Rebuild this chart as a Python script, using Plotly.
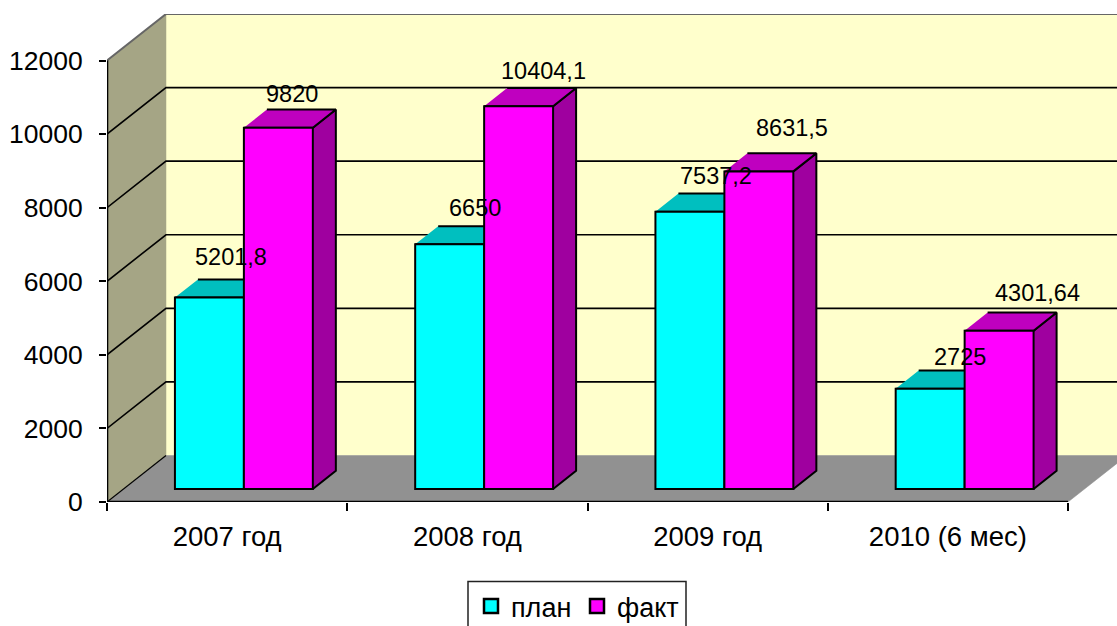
import plotly.graph_objects as go

categories = ["2007 год", "2008 год", "2009 год", "2010 (6 мес)"]
plan = [5201.8, 6650, 7537.2, 2725]
fact = [9820, 10404.1, 8631.5, 4301.64]
plan_labels = ["5201,8", "6650", "7537,2", "2725"]
fact_labels = ["9820", "10404,1", "8631,5", "4301,64"]
y_ticks = [0, 2000, 4000, 6000, 8000, 10000, 12000]

# Oblique projection of the depth axis, in axis units per unit of depth
W, H = 1117, 626
L, R, T, B = 107, 1068, 60.5, 502
DEPTH_X, DEPTH_Y = 59, 46.5
N = len(categories)
DX = DEPTH_X / (R - L) * N
DY = DEPTH_Y / (B - T) * 12000
D_FRONT, D_BACK = 0.28, 0.67
BAR_START, BAR_W = 0.214, 0.287
AREA_R, AREA_T = W, T - DEPTH_Y
X_MAX = (AREA_R - L) / (R - L) * N


def px(u, v, d):
    return u + d * DX, v + d * DY


def poly(points):
    xs, ys = zip(*[px(*p) for p in points])
    return list(xs), list(ys)


def face_trace(polys, fill, line=None, lw=2, z=0):
    xs, ys = [], []
    for p in polys:
        a, b = poly(p)
        xs += a + [None]
        ys += b + [None]
    return go.Scatter(x=xs, y=ys, mode="lines", fill="toself", fillcolor=fill,
                      line=dict(color=line or fill, width=lw), hoverinfo="skip",
                      showlegend=False, cliponaxis=False, zorder=z)


def line_trace(points_list, color, width, z=0):
    xs, ys = [], []
    for pts in points_list:
        a, b = poly(pts)
        xs += a + [None]
        ys += b + [None]
    return go.Scatter(x=xs, y=ys, mode="lines", line=dict(color=color, width=width),
                      hoverinfo="skip", showlegend=False, cliponaxis=False, zorder=z)


fig = go.Figure()

# walls and floor
fig.add_trace(face_trace([[(0, 0, 1), (N, 0, 1), (N, 12000, 1), (0, 12000, 1)]], "#FFFFCC", lw=0.5))
fig.add_trace(face_trace([[(0, 0, 0), (0, 0, 1), (0, 12000, 1), (0, 12000, 0)]], "#A5A585", lw=0.5))
fig.add_trace(face_trace([[(0, 0, 0), (N, 0, 0), (N, 0, 1), (0, 0, 1)]], "#919191", lw=0.5))

# gridlines
inner = [t for t in y_ticks if 0 < t < 12000]
fig.add_trace(line_trace([[(0, t, 0), (0, t, 1), (N, t, 1)] for t in inner], "#000000", 1.6))
fig.add_trace(line_trace([[(0, 0, 0), (0, 0, 1)]], "#000000", 1.2))
fig.add_trace(line_trace([[(0, 12000, 0), (0, 12000, 1), (N, 12000, 1)]], "#666666", 2))


def add_series(name, values, slot, front, top, side, z):
    u0 = [i + BAR_START + slot * BAR_W for i in range(N)]
    u1 = [u + BAR_W for u in u0]
    base = D_FRONT * DY
    sides = [[(u1[i], 0, D_FRONT), (u1[i], 0, D_BACK), (u1[i], values[i], D_BACK), (u1[i], values[i], D_FRONT)]
             for i in range(N)]
    tops = [[(u0[i], values[i], D_FRONT), (u1[i], values[i], D_FRONT),
             (u1[i], values[i], D_BACK), (u0[i], values[i], D_BACK)] for i in range(N)]
    fig.add_trace(face_trace(sides, side, "#000000", 2, z))
    fig.add_trace(face_trace(tops, top, "#000000", 2, z))
    fig.add_trace(go.Bar(
        name=name,
        x=[u + BAR_W / 2 + D_FRONT * DX for u in u0],
        y=values, base=base, width=BAR_W,
        marker=dict(color=front, line=dict(color="#000000", width=2)),
        cliponaxis=False, zorder=z + 1, showlegend=False,
        hovertemplate=name + ": %{y}<extra></extra>",
    ))
    # legend key: square swatch larger than the fixed bar swatch
    fig.add_trace(go.Scatter(x=[None], y=[None], mode="markers", name=name,
                             marker=dict(symbol="square", size=14, color=front,
                                         line=dict(color="#000000", width=2.5))))


add_series("план", plan, 0, "#00FFFF", "#00BFBF", "#009F9F", 1)
add_series("факт", fact, 1, "#FF00FF", "#BF00BF", "#9F009F", 3)

# axis lines stop at the last tick, below the top and right edges of the walls
fig.add_trace(line_trace([[(0, 12000, 0), (0, 0, 0), (N, 0, 0)]], "#000000", 2.6, z=6))

# data labels: anchored at the bar's front top centre, nudged in pixels
plan_dx, plan_dy = [22, 25, 26, 30], [41, 36, 36, 32]
fact_dx, fact_dy = [14, 25, 33, 38], [34, 35, 43, 38]
annotations = []
for slot, vals, labs, dxs, dys in ((0, plan, plan_labels, plan_dx, plan_dy),
                                   (1, fact, fact_labels, fact_dx, fact_dy)):
    for i in range(N):
        x, y = px(i + BAR_START + (slot + 0.5) * BAR_W, vals[i], D_FRONT)
        annotations.append(dict(x=x, y=y, xref="x", yref="y", text=labs[i], showarrow=False,
                                xshift=dxs[i], yshift=dys[i], xanchor="center", yanchor="middle",
                                font=dict(size=23.5, color="#000000")))

fig.update_layout(
    width=W, height=H,
    margin=dict(l=L, r=W - AREA_R, t=AREA_T, b=H - B, pad=0, autoexpand=False),
    paper_bgcolor="#FFFFFF", plot_bgcolor="rgba(0,0,0,0)",
    font=dict(family="Liberation Sans, Arial, sans-serif", color="#000000"),
    barmode="overlay",
    xaxis=dict(range=[0, X_MAX], tickmode="array", tickvals=[i + 0.5 for i in range(N)],
               ticktext=categories, ticks="", showgrid=False, zeroline=False, showline=False,
               tickfont=dict(size=27.5), ticklabelstandoff=15,
               minor=dict(tickmode="array", tickvals=list(range(N + 1)), ticks="outside",
                          ticklen=8, tickwidth=1.5, tickcolor="#000000", showgrid=False)),
    yaxis=dict(range=[0, 12000 + DY], tickmode="array", tickvals=y_ticks,
               ticktext=[str(t) for t in y_ticks], ticks="outside",
               ticklen=7, tickwidth=1.5, tickcolor="#000000", showgrid=False, zeroline=False,
               showline=False, tickfont=dict(size=26.5), ticklabelstandoff=11),
    legend=dict(orientation="h", x=(471 - L) / (AREA_R - L), xanchor="left",
                y=(B - 582) / (B - AREA_T), yanchor="top",
                bgcolor="rgba(0,0,0,0)", borderwidth=0, font=dict(size=27), itemwidth=30,
                entrywidth=61, entrywidthmode="pixels", traceorder="normal"),
    shapes=[dict(type="rect", xref="paper", yref="paper",
                 x0=(468 - L) / (AREA_R - L), x1=(686 - L) / (AREA_R - L),
                 y0=(B - 640) / (B - AREA_T), y1=(B - 581.5) / (B - AREA_T),
                 line=dict(color="#222222", width=1.5), fillcolor="rgba(0,0,0,0)", layer="above")],
    annotations=annotations,
    showlegend=True,
)

fig.write_html("out.html", config=dict(displayModeBar=False),
               post_script="document.body.style.margin='0';document.documentElement.style.overflow='hidden';")
